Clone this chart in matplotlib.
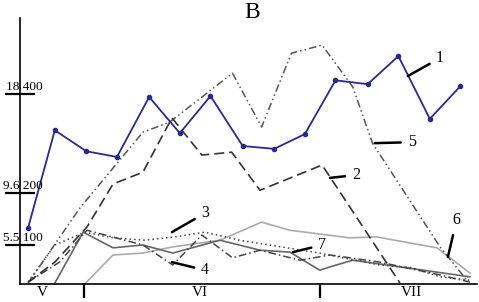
import numpy as np
import matplotlib
matplotlib.use("Agg")
import matplotlib.pyplot as plt

plt.rcParams["font.family"] = ["Liberation Serif", "DejaVu Serif"]

# x: days counted from 1 May (VI starts at 31, VII at 61); y: abundance
days_1 = [23.9, 27.3, 31.3, 35.2, 39.3, 43.2, 47.1, 51.2, 55.2, 59.1, 63.0, 67.1, 71.0, 75.0, 78.9]
vals_1 = [118, 323, 279, 267, 393, 317, 395, 290, 284, 315, 428, 420, 479, 347, 416]

days_2 = [23.9, 27.3, 31.4, 34.7, 38.5, 42.2, 46.0, 49.8, 53.4, 61.3, 71.2]
vals_2 = [4, 46, 120, 210, 235, 349, 271, 277, 197, 250, 2]

days_3 = [23.9, 27.3, 31.1, 34.7, 38.8, 42.6, 46.4, 50.8, 61.0, 68.6, 72.8, 76.3, 80.1]
vals_3 = [4, 82, 109, 97, 92, 99, 109, 92, 65, 40, 34, 15, 8]

days_4 = [23.9, 27.9, 31.4, 38.5, 42.3, 46.0, 49.9, 53.4, 58.5, 62.3, 68.6, 76.3, 80.1]
vals_4 = [4, 46, 113, 82, 40, 103, 55, 71, 50, 61, 46, 19, 4]

days_5 = [23.9, 30.5, 38.5, 41.9, 49.9, 53.6, 57.4, 61.3, 65.2, 67.7, 76.3, 79.7]
vals_5 = [2, 160, 319, 340, 443, 330, 485, 502, 414, 296, 78, 8]

days_6 = [31.1, 34.7, 38.5, 42.3, 48.3, 53.6, 57.2, 64.8, 68.2, 75.9, 80.1]
vals_6 = [0, 61, 65, 78, 92, 130, 113, 97, 99, 76, 23]

days_7 = [27.3, 30.9, 34.7, 38.5, 42.3, 48.3, 53.4, 57.2, 61.0, 62.3, 65.2, 71.2, 80.1]
vals_7 = [2, 109, 76, 82, 65, 92, 71, 67, 29, 36, 50, 36, 15]

ytick_pos = [400, 191, 82]
ytick_text = ["18 400", "9.6 200", "5.5 100"]
month_pos = [25.7, 45.7, 72.7]
month_text = ["V", "VI", "VII"]
month_edges = [31, 61]

fig = plt.figure(figsize=(4.79, 3.02), dpi=100)
ax = fig.add_axes([20 / 479, 18 / 302, 457 / 479, 266 / 302])

ax.plot(days_6, vals_6, color="#ababab", lw=1.2)
ax.plot(days_7, vals_7, color="#666666", lw=1.2)
ax.plot(days_3, vals_3, color="#444444", lw=1.1, dashes=(1, 2))
ax.plot(days_4, vals_4, color="#444444", lw=1.1, dashes=(5, 2, 1, 2))
ax.plot(days_5, vals_5, color="#555555", lw=1.1, dashes=(5, 2, 1, 2, 1, 2))
ax.plot(days_2, vals_2, color="#333333", lw=1.2, dashes=(6, 3))
ax.plot(days_1, vals_1, color="#2a2a8c", lw=1.3, marker="o", ms=3)

# numbered labels with short leader lines
labels = [
    ("1", (72.2, 437), (76.3, 475)),
    ("5", (68.0, 296), (72.7, 298)),
    ("2", (62.3, 223), (65.6, 229)),
    ("3", (42.2, 109), (46.4, 149)),
    ("4", (42.2, 46), (46.4, 29)),
    ("6", (77.3, 57), (78.4, 134)),
    ("7", (57.6, 67), (61.3, 82)),
]
for txt, xy, xyt in labels:
    ax.annotate(txt, xy=xy, xytext=xyt, fontsize=11.5, ha="center", va="center",
                arrowprops=dict(arrowstyle="-", lw=1.8, color="black",
                                shrinkA=3, shrinkB=0))

ax.set_xlim(22.87, 81.0)
ax.set_ylim(0, 559)
for s in ["top", "right"]:
    ax.spines[s].set_visible(False)
ax.spines["left"].set_linewidth(1.2)
ax.spines["bottom"].set_linewidth(1.2)

ax.set_yticks(ytick_pos)
ax.set_yticklabels([])
ax.tick_params(axis="y", direction="inout", length=22, width=1.6)
for y, t in zip(ytick_pos, ytick_text):
    ax.annotate(t, xy=(0, y), xycoords=ax.get_yaxis_transform(),
                xytext=(23, 1), textcoords="offset pixels",
                ha="right", va="bottom", fontsize=9.5)

ax.set_xticks(month_edges)
ax.set_xticklabels([])
ax.tick_params(axis="x", direction="out", length=10, width=1.6)
for x, t in zip(month_pos, month_text):
    ax.text(x, -4, t, ha="center", va="top", fontsize=11)

fig.text(252 / 479, 1 - 13 / 302, "B", ha="center", va="center", fontsize=17)

fig.savefig("out.png", dpi=100)
